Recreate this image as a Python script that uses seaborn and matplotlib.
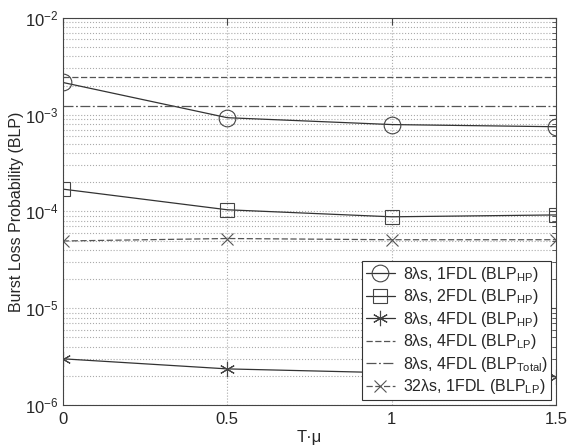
import seaborn as sns
import matplotlib.pyplot as plt
import matplotlib.ticker as mticker
import pandas as pd
import numpy as np

# x values (T*mu)
t_mu = [0, 0.5, 1, 1.5]

# burst loss probabilities
blp_8l_1fdl_hp = [2.15e-3, 9.3e-4, 7.9e-4, 7.5e-4]
blp_8l_2fdl_hp = [1.7e-4, 1.04e-4, 8.8e-5, 9.2e-5]
blp_8l_4fdl_hp = [3.0e-6, 2.36e-6, 2.15e-6, 1.96e-6]
blp_8l_4fdl_lp = [2.45e-3, 2.45e-3, 2.45e-3, 2.45e-3]
blp_8l_4fdl_total = [1.22e-3, 1.22e-3, 1.22e-3, 1.22e-3]
blp_32l_1fdl_lp = [4.95e-5, 5.25e-5, 5.1e-5, 5.1e-5]

labels = [r'8$\lambda$s, 1FDL (BLP$_{HP}$)',
          r'8$\lambda$s, 2FDL (BLP$_{HP}$)',
          r'8$\lambda$s, 4FDL (BLP$_{HP}$)',
          r'8$\lambda$s, 4FDL (BLP$_{LP}$)',
          r'8$\lambda$s, 4FDL (BLP$_{Total}$)',
          r'32$\lambda$s, 1FDL (BLP$_{LP}$)']

sns.set_style("white")
plt.rcParams['font.family'] = ['Liberation Sans', 'DejaVu Sans']
plt.rcParams['mathtext.fontset'] = 'custom'
plt.rcParams['mathtext.rm'] = 'Liberation Sans'
plt.rcParams['mathtext.it'] = 'Liberation Sans'
plt.rcParams['mathtext.default'] = 'regular'

fig, ax = plt.subplots(figsize=(5.67, 4.47), dpi=100)
fig.subplots_adjust(left=0.111, right=0.981, top=0.960, bottom=0.094)

styles = [
    (blp_8l_1fdl_hp, dict(color='#333333', linestyle='-', marker='o', markersize=12,
                          markerfacecolor='none', markeredgecolor='#444444', markeredgewidth=0.8)),
    (blp_8l_2fdl_hp, dict(color='#333333', linestyle='-', marker='s', markersize=10,
                          markerfacecolor='none', markeredgecolor='#444444', markeredgewidth=0.8)),
    (blp_8l_4fdl_hp, dict(color='#333333', linestyle='-', marker=(6, 2, 0), markersize=11,
                          markeredgecolor='#444444', markeredgewidth=0.8)),
    (blp_8l_4fdl_lp, dict(color='#555555', linestyle=(0, (5, 2)), marker=None)),
    (blp_8l_4fdl_total, dict(color='#555555', linestyle=(0, (8, 2, 1.5, 2)), marker=None)),
    (blp_32l_1fdl_lp, dict(color='#555555', linestyle=(0, (5, 2)), marker='x', markersize=9,
                           markeredgecolor='#555555', markeredgewidth=0.8)),
]

for (vals, st), lab in zip(styles, labels):
    sns.lineplot(x=t_mu, y=vals, ax=ax, label=lab, linewidth=0.9, **st)

ax.set_yscale('log')
ax.set_ylim(1e-6, 1e-2)
ax.set_xlim(0, 1.5)
ax.set_xticks([0, 0.5, 1, 1.5])
ax.set_xticklabels(['0', '0.5', '1', '1.5'])
ax.yaxis.set_major_locator(mticker.LogLocator(base=10, numticks=10))
ax.yaxis.set_minor_locator(mticker.LogLocator(base=10, subs=np.arange(2, 10), numticks=20))
ax.yaxis.set_minor_formatter(mticker.NullFormatter())

ax.grid(True, which='major', color='#aaaaaa', linestyle=':', linewidth=0.8)
ax.grid(True, which='minor', axis='y', color='#aaaaaa', linestyle=':', linewidth=0.8)
ax.tick_params(which='both', direction='in', top=True, right=True, labelsize=12,
               color='#444444')
ax.tick_params(axis='x', pad=5)
ax.tick_params(which='major', length=5)
ax.tick_params(which='minor', length=3)
for s in ax.spines.values():
    s.set_color('#444444')
    s.set_linewidth(0.8)

ax.set_xlabel('T·μ', fontsize=12, labelpad=2)
ax.set_ylabel('Burst Loss Probability (BLP)', fontsize=11.5)
ax.yaxis.set_label_coords(-0.078, 0.5)

leg = ax.legend(loc='lower right', fontsize=11.5, frameon=True, fancybox=False,
                edgecolor='#333333', framealpha=1, borderpad=0.25, labelspacing=0.22,
                handlelength=1.8, handletextpad=0.5, borderaxespad=0.3)
leg.get_frame().set_linewidth(0.8)

plt.savefig('out.png', dpi=100)
